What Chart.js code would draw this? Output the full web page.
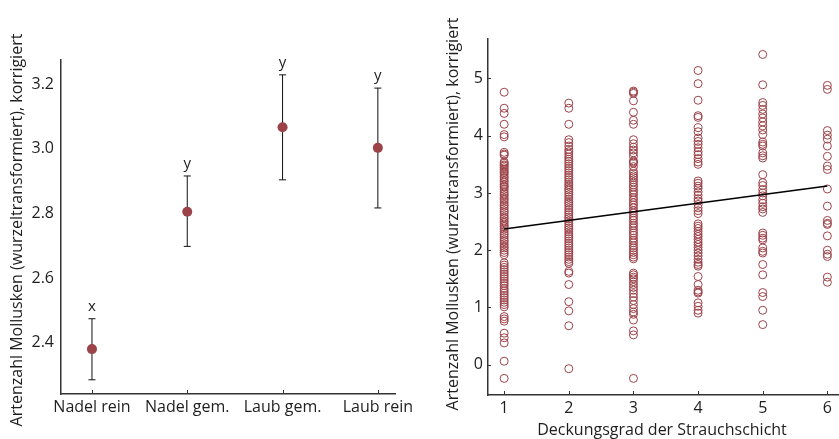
<!DOCTYPE html>
<html>
<head>
<meta charset="utf-8">
<script src="https://cdn.jsdelivr.net/npm/chart.js@4.4.1/dist/chart.umd.min.js"></script>
<style>
html, body { margin: 0; padding: 0; background: #fff; overflow: hidden; }
#c1 { position: absolute; left: 0; top: 0; }
#c2 { position: absolute; left: 420px; top: 0; }
</style>
</head>
<body>
<canvas id="c1" width="420" height="439"></canvas>
<canvas id="c2" width="419" height="439"></canvas>
<script>
'use strict'

// linkes Bild: Mittelwerte je Waldtyp
const waldtyp = ['Nadel rein', 'Nadel gem.', 'Laub gem.', 'Laub rein'];
const mittel = [2.38, 2.805, 3.067, 3.003];
const oben = [2.474, 2.916, 3.229, 3.188];
const unten = [2.285, 2.698, 2.904, 2.817];
const gruppe = ['x', 'y', 'y', 'y'];
const yTicksLinks = [2.4, 2.6, 2.8, 3.0, 3.2];

// rechtes Bild: Deckungsgrad vs. Artenzahl
const deckung = [1, 2, 3, 4, 5, 6];
const arten1 = [4.76, 4.48, 4.39, 4.2, 4.02, 3.98, 3.71, 3.68, 3.66,
  3.54, 3.52, 3.49, 3.47, 3.44, 3.41, 3.38, 3.36, 3.33, 3.29, 3.26, 3.22, 3.19, 3.15, 3.12, 3.1,
  3.06, 3.02, 2.98, 2.95, 2.91, 2.88, 2.84, 2.8, 2.77, 2.73, 2.69, 2.66, 2.62, 2.58, 2.55, 2.51,
  2.48, 2.44, 2.41, 2.37, 2.33, 2.29, 2.26, 2.22, 2.18, 2.15, 2.11, 2.07, 2.04, 2.0, 1.96, 1.92,
  1.78, 1.74, 1.7, 1.66, 1.62, 1.58, 1.54, 1.5, 1.46, 1.42, 1.38, 1.33, 1.29, 1.25, 1.21, 1.17,
  1.13, 1.09, 1.05, 1.01, 0.84, 0.8, 0.76, 0.55, 0.47, 0.38, 0.06, -0.24];
const arten2 = [4.57, 4.48, 4.2, 3.93, 3.88, 3.82, 3.76, 3.72, 3.68, 3.63, 3.59, 3.55, 3.51, 3.47,
  3.43, 3.39, 3.35, 3.31, 3.27, 3.23, 3.19, 3.15, 3.12, 3.08, 3.05, 3.01, 2.97, 2.93, 2.89, 2.85,
  2.82, 2.78, 2.74, 2.7, 2.66, 2.62, 2.58, 2.55, 2.51, 2.47, 2.43, 2.39, 2.36, 2.32, 2.28, 2.24,
  2.2, 2.16, 2.12, 2.08, 2.04, 2.0, 1.96, 1.92, 1.88, 1.84, 1.8, 1.77, 1.63, 1.6, 1.4, 1.1, 0.94,
  0.68, -0.07];
const arten3 = [4.78, 4.76, 4.74, 4.61, 4.41, 4.27, 4.2, 3.93, 3.86, 3.8, 3.75, 3.7, 3.64, 3.56,
  3.54, 3.52, 3.46, 3.38, 3.34, 3.3, 3.27, 3.23, 3.19, 3.14, 3.1, 3.05, 3.01, 2.97, 2.92, 2.88,
  2.83, 2.79, 2.74, 2.69, 2.65, 2.6, 2.56, 2.52, 2.47, 2.43, 2.39, 2.34, 2.3, 2.26, 2.21, 2.17,
  2.13, 2.08, 2.04, 2.0, 1.96, 1.92, 1.88, 1.85, 1.6, 1.57, 1.53, 1.5, 1.45, 1.4, 1.35, 1.3, 1.24,
  1.18, 1.12, 1.05, 0.98, 0.92, 0.88, 0.78, 0.59, 0.52, -0.24];
const arten4 = [5.14, 4.91, 4.62, 4.35, 4.32, 4.14, 4.07, 3.96, 3.9, 3.85, 3.79, 3.72, 3.67, 3.6,
  3.54, 3.5, 3.21, 3.17, 3.12, 3.08, 3.02, 2.96, 2.9, 2.86, 2.8, 2.74, 2.69, 2.64, 2.46, 2.42,
  2.38, 2.33, 2.28, 2.24, 2.19, 2.14, 2.1, 2.05, 2.0, 1.95, 1.9, 1.84, 1.79, 1.75, 1.72, 1.54,
  1.4, 1.3, 1.27, 1.25, 1.08, 1.02, 0.95, 0.9];
const arten5 = [5.42, 4.89, 4.58, 4.53, 4.46, 4.38, 4.31, 4.24, 4.17, 4.1, 4.02, 3.89, 3.85, 3.82,
  3.7, 3.65, 3.61, 3.32, 3.18, 3.13, 3.06, 3.0, 2.95, 2.88, 2.82, 2.76, 2.72, 2.66, 2.3, 2.26,
  2.21, 2.18, 2.04, 1.98, 1.95, 1.75, 1.57, 1.26, 1.19, 0.95, 0.7];
const arten6 = [4.88, 4.81, 4.09, 4.01, 3.94, 3.82, 3.64, 3.47, 3.41, 3.07, 2.77, 2.52, 2.47, 2.45,
  2.25, 2.0, 1.93, 1.89, 1.53, 1.44];
const arten = [arten1, arten2, arten3, arten4, arten5, arten6];
const linieX = [1, 6];
const linieY = [2.37, 3.12];
const yTicksRechts = [0, 1, 2, 3, 4, 5];

const rot = '#9b4349';
const achse = '#333333';
const schrift = '#1e1e1e';
const FONT = '"Open Sans", "DejaVu Sans", sans-serif';
Chart.defaults.font.family = FONT;
Chart.defaults.color = schrift;

// Achsentitel, Buchstaben und nach innen zeigende Ticks
const extras = {
  id: 'extras',
  afterDraw(chart, args, opts) {
    const ctx = chart.ctx;
    const xs = chart.scales.x, ys = chart.scales.y;
    ctx.save();
    ctx.strokeStyle = achse;
    ctx.lineWidth = 1;
    xs.ticks.forEach(t => {
      const px = Math.round(xs.getPixelForValue(t.value)) + 0.5;
      ctx.beginPath(); ctx.moveTo(px, xs.top); ctx.lineTo(px, xs.top - 4); ctx.stroke();
    });
    if (opts.yTicks) {
      ys.ticks.forEach(t => {
        const py = Math.round(ys.getPixelForValue(t.value)) + 0.5;
        ctx.beginPath(); ctx.moveTo(ys.right, py); ctx.lineTo(ys.right + 3, py); ctx.stroke();
      });
    }
    ctx.fillStyle = schrift;
    ctx.font = '16px ' + FONT;
    ctx.textAlign = 'center';
    ctx.textBaseline = 'middle';
    if (opts.yTitle) {
      ctx.save();
      ctx.translate(opts.yTitle.x, opts.yTitle.y);
      ctx.rotate(-Math.PI / 2);
      ctx.fillText(opts.yTitle.text, 0, 0);
      ctx.restore();
    }
    if (opts.xTitle) {
      ctx.fillText(opts.xTitle.text, opts.xTitle.x, opts.xTitle.y);
    }
    if (opts.letters) {
      ctx.font = '15px ' + FONT;
      ctx.textBaseline = 'alphabetic';
      gruppe.forEach((g, i) => {
        ctx.fillText(g, xs.getPixelForValue(i + 1), ys.getPixelForValue(oben[i]) - 8);
      });
    }
    ctx.restore();
  }
};

// Fehlerbalken als Linie mit Lücken
const fehler = [];
waldtyp.forEach((w, i) => {
  fehler.push({x: i + 1, y: unten[i]}, {x: i + 1, y: oben[i]}, {x: i + 1, y: null});
});

new Chart(document.getElementById('c1'), {
  type: 'scatter',
  data: {
    datasets: [
      {
        data: mittel.map((m, i) => ({x: i + 1, y: m})),
        backgroundColor: rot,
        borderColor: rot,
        pointRadius: 5,
        pointBorderWidth: 0
      },
      {
        data: fehler,
        showLine: true,
        spanGaps: false,
        borderColor: '#111',
        borderWidth: 1,
        pointStyle: 'line',
        pointRadius: 3.5,
        pointBorderWidth: 1,
        pointBorderColor: '#111'
      }
    ]
  },
  options: {
    responsive: false,
    animation: false,
    events: [],
    layout: { autoPadding: false, padding: { top: 60, right: 25, left: 0, bottom: 0 } },
    plugins: {
      legend: { display: false },
      tooltip: { enabled: false },
      extras: {
        yTitle: { text: 'Artenzahl Mollusken (wurzeltransformiert), korrigiert', x: 17, y: 230 },
        letters: true
      }
    },
    scales: {
      x: {
        type: 'linear',
        min: 0.675, max: 4.18,
        afterBuildTicks: s => { s.ticks = waldtyp.map((w, i) => ({value: i + 1})); },
        afterFit: s => { s.height = 45; },
        grid: { display: false, drawTicks: false },
        border: { color: achse, width: 1.5 },
        ticks: { callback: v => waldtyp[v - 1], font: { size: 16 }, padding: 4, maxRotation: 0, autoSkip: false }
      },
      y: {
        min: 2.241, max: 3.275,
        afterBuildTicks: s => { s.ticks = yTicksLinks.map(v => ({value: v})); },
        afterFit: s => { s.width = 61; },
        grid: { display: false, drawTicks: false },
        border: { color: achse, width: 1.5 },
        ticks: { callback: v => Number(v).toFixed(1), font: { size: 16 }, padding: 7 }
      }
    }
  },
  plugins: [extras]
});

new Chart(document.getElementById('c2'), {
  type: 'scatter',
  data: {
    datasets: [
      {
        data: linieX.map((x, i) => ({x: x, y: linieY[i]})),
        showLine: true,
        borderColor: '#000',
        borderWidth: 1.5,
        pointRadius: 0
      },
      {
        data: arten.flatMap((vals, i) => vals.map(v => ({x: deckung[i], y: v}))),
        backgroundColor: 'rgba(0,0,0,0)',
        borderColor: rot,
        pointRadius: 4,
        pointBorderWidth: 1
      }
    ]
  },
  options: {
    responsive: false,
    animation: false,
    events: [],
    layout: { autoPadding: false, padding: { top: 39, right: 0, left: 0, bottom: 0 } },
    plugins: {
      legend: { display: false },
      tooltip: { enabled: false },
      extras: {
        yTitle: { text: 'Artenzahl Mollusken (wurzeltransformiert), korrigiert', x: 33, y: 214 },
        xTitle: { text: 'Deckungsgrad der Strauchschicht', x: 242, y: 430 },
        yTicks: true
      }
    },
    scales: {
      x: {
        type: 'linear',
        min: 0.75, max: 6.18,
        afterBuildTicks: s => { s.ticks = deckung.map(v => ({value: v})); },
        afterFit: s => { s.height = 44; },
        grid: { display: false, drawTicks: false },
        border: { color: achse, width: 1.5 },
        ticks: { font: { size: 16 }, padding: 4, maxRotation: 0, autoSkip: false }
      },
      y: {
        min: -0.53, max: 5.69,
        afterBuildTicks: s => { s.ticks = yTicksRechts.map(v => ({value: v})); },
        afterFit: s => { s.width = 68; },
        grid: { display: false, drawTicks: false },
        border: { color: achse, width: 1.5 },
        ticks: { font: { size: 16 }, padding: 5 }
      }
    }
  },
  plugins: [extras]
});
</script>
</body>
</html>
